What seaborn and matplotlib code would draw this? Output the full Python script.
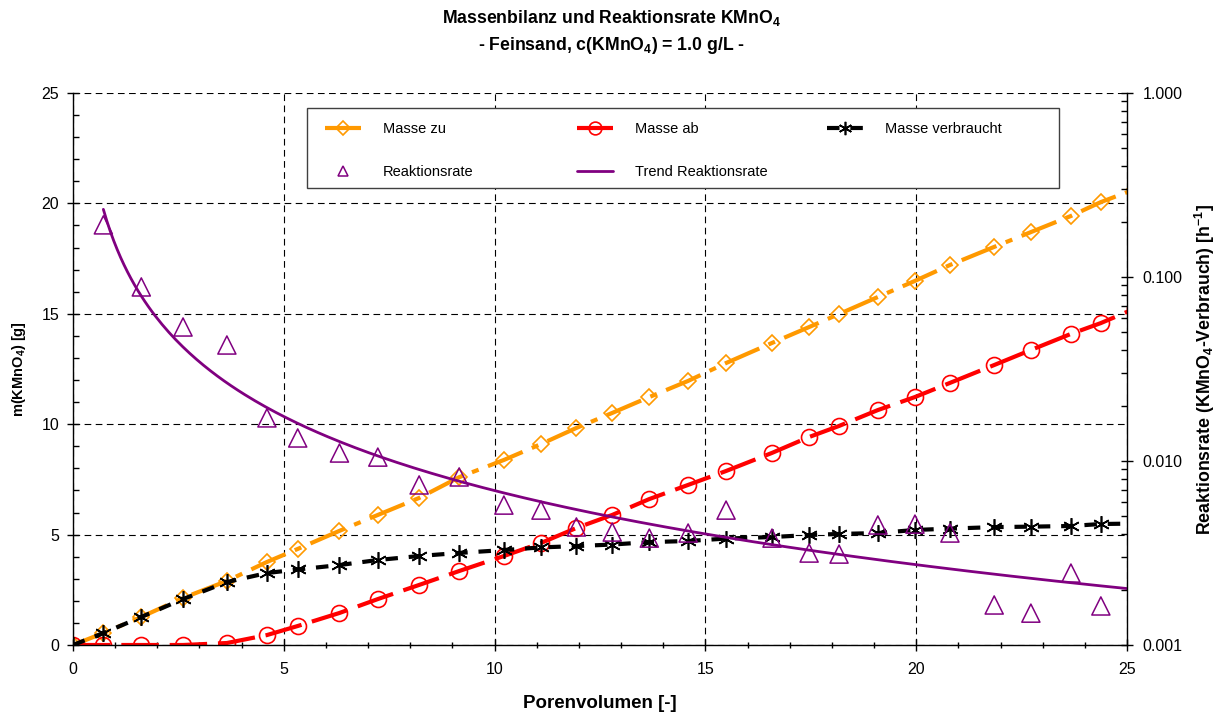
import numpy as np
import matplotlib
matplotlib.use("Agg")
import matplotlib.pyplot as plt
import seaborn as sns
from matplotlib.legend import Legend
from matplotlib.patches import Rectangle
from matplotlib.ticker import MultipleLocator, LogLocator, FuncFormatter, NullFormatter

# ---- data ----
porenvolumen = [0, 0.72, 1.62, 2.61, 3.65, 4.60, 5.33, 6.32, 7.23, 8.21, 9.16, 10.22,
                11.10, 11.94, 12.79, 13.67, 14.59, 15.49, 16.58, 17.46, 18.17, 19.09,
                19.97, 20.80, 21.85, 22.72, 23.67, 24.38, 25.20]
masse_zu = [0, 0.54, 1.27, 2.13, 2.90, 3.76, 4.35, 5.17, 5.89, 6.66, 7.60, 8.38,
            9.10, 9.83, 10.51, 11.23, 11.96, 12.77, 13.68, 14.40, 14.99, 15.76,
            16.49, 17.21, 18.03, 18.70, 19.43, 20.06, 20.65]
masse_ab = [0, 0, 0, 0, 0.09, 0.45, 0.86, 1.45, 2.08, 2.72, 3.35, 4.03,
            4.62, 5.30, 5.89, 6.61, 7.25, 7.88, 8.70, 9.42, 9.92, 10.64,
            11.23, 11.87, 12.68, 13.36, 14.09, 14.58, 15.25]
masse_verbraucht = [0, 0.54, 1.27, 2.08, 2.85, 3.26, 3.42, 3.62, 3.85, 4.03, 4.17, 4.30,
                    4.42, 4.48, 4.55, 4.66, 4.71, 4.82, 4.89, 4.98, 5.03, 5.07,
                    5.21, 5.27, 5.34, 5.36, 5.39, 5.48, 5.50]
pv_rate = [0.72, 1.62, 2.61, 3.65, 4.60, 5.33, 6.32, 7.23, 8.21, 9.16, 10.22,
           11.10, 11.94, 12.79, 13.67, 14.59, 15.49, 16.58, 17.46, 18.17, 19.09,
           19.97, 20.80, 21.85, 22.72, 23.67, 24.38]
reaktionsrate = [0.192, 0.0883, 0.0535, 0.0427, 0.01715, 0.01334, 0.01105, 0.0105,
                 0.00741, 0.00819, 0.00576, 0.00541, 0.00438, 0.00411, 0.00381,
                 0.00406, 0.00541, 0.00381, 0.00316, 0.00312, 0.00449, 0.00454,
                 0.00406, 0.00165, 0.00149, 0.00246, 0.00163]

x_ticks = [0, 5, 10, 15, 20, 25]
y_ticks = [0, 5, 10, 15, 20, 25]

ORANGE = "#FF9900"
RED = "#FF0000"
BLACK = "#000000"
PURPLE = "#800080"

sns.set_theme(style="ticks")
plt.rcParams['font.family'] = ['Liberation Sans', 'DejaVu Sans']
plt.rcParams['text.color'] = 'black'
plt.rcParams['axes.labelcolor'] = 'black'
plt.rcParams['mathtext.fontset'] = 'custom'
plt.rcParams['mathtext.rm'] = 'Liberation Sans'
plt.rcParams['mathtext.bf'] = 'Liberation Sans:bold'
plt.rcParams['mathtext.default'] = 'bf'

fig = plt.figure(figsize=(12.23, 7.15), dpi=100)
ax = fig.add_axes([73 / 1223, 70 / 715, 1054 / 1223, 552 / 715])
ax2 = ax.twinx()

# ---- mass series (left axis) ----
sns.lineplot(x=porenvolumen, y=masse_zu, ax=ax, color=ORANGE, linewidth=3,
             linestyle=(0, (9, 2.4, 1.7, 2.4)), marker="D", markersize=8.5,
             markerfacecolor="none", markeredgecolor=ORANGE, markeredgewidth=1.2)
h_zu = ax.lines[-1]
sns.lineplot(x=porenvolumen, y=masse_ab, ax=ax, color=RED, linewidth=3,
             linestyle=(0, (9, 2.6)), marker="o", markersize=11.5,
             markerfacecolor="none", markeredgecolor=RED, markeredgewidth=1.2)
h_ab = ax.lines[-1]
sns.lineplot(x=porenvolumen, y=masse_verbraucht, ax=ax, color=BLACK, linewidth=3,
             linestyle=(0, (3, 2.6)), marker=(6, 2, 0), markersize=12,
             markerfacecolor="none", markeredgecolor=BLACK, markeredgewidth=1.2)
h_vb = ax.lines[-1]

ax.set_xlim(0, 25)
ax.set_ylim(0, 25)
ax.set_xticks(x_ticks)
ax.set_yticks(y_ticks)
ax.xaxis.set_minor_locator(MultipleLocator(1))
ax.yaxis.set_minor_locator(MultipleLocator(1))
ax.grid(True, which="major", color="black", linestyle=(0, (6, 4)), linewidth=0.8)
ax.set_axisbelow(True)
ax.tick_params(which="major", direction="inout", length=8, width=1, labelsize=11.5,
               colors="black")
ax.tick_params(axis="x", which="major", pad=8)
ax.tick_params(axis="y", which="major", pad=6)
ax.tick_params(which="minor", direction="inout", length=5, width=1, colors="black")
ax.tick_params(axis="y", which="minor", direction="in", length=4)
for s in ["top", "right"]:
    ax.spines[s].set_visible(False)
for s in ["left", "bottom"]:
    ax.spines[s].set_color("black")
    ax.spines[s].set_linewidth(1)
ax.set_xlabel("Porenvolumen [-]", fontsize=13.5, fontweight="bold", labelpad=13)
ax.set_ylabel("m(KMnO$_4$) [g]", fontsize=10.5, fontweight="bold", labelpad=9.5)

# ---- reaction rate (right axis, log) ----
sns.scatterplot(x=pv_rate, y=reaktionsrate, ax=ax2, marker="^", s=170,
                color=PURPLE, linewidth=1.1, zorder=3)
pts = ax2.collections[-1]
pts.set_facecolor("none")
pts.set_edgecolor(PURPLE)
pts.set_clip_on(False)

coef = np.polyfit(np.log(pv_rate), np.log(reaktionsrate), 1)
x_trend = np.linspace(min(pv_rate), porenvolumen[-1], 300)
y_trend = np.exp(coef[1]) * x_trend ** coef[0]
sns.lineplot(x=x_trend, y=y_trend, ax=ax2, color=PURPLE, linewidth=2, zorder=2)
h_trend = ax2.lines[-1]

ax2.set_yscale("log")
ax2.set_ylim(0.001, 1)
ax2.set_xlim(0, 25)
ax2.yaxis.set_major_locator(LogLocator(base=10, numticks=10))
ax2.yaxis.set_major_formatter(FuncFormatter(lambda v, p: f"{v:.3f}"))
ax2.yaxis.set_minor_locator(LogLocator(base=10, subs=np.arange(2, 10), numticks=20))
ax2.yaxis.set_minor_formatter(NullFormatter())
ax2.tick_params(which="major", direction="inout", length=8, width=1, labelsize=11.5,
                colors="black", pad=7)
ax2.tick_params(which="minor", direction="in", length=4, width=1, colors="black")
for s in ["top", "left", "bottom"]:
    ax2.spines[s].set_visible(False)
ax2.spines["right"].set_color("black")
ax2.spines["right"].set_linewidth(1)
ax2.set_ylabel("Reaktionsrate (KMnO$_4$-Verbrauch) [h$^{-1}$]", fontsize=12.8,
               fontweight="bold", labelpad=8)

# ---- legend: one frame, three columns ----
frame = Rectangle((0.222, 0.828), 0.7135, 0.145, transform=ax2.transAxes,
                  facecolor="white", edgecolor="#404040", linewidth=1,
                  zorder=4, clip_on=False)
ax2.add_patch(frame)

h_rate = plt.Line2D([], [], linestyle="none", marker="^", markersize=9,
                    markerfacecolor="none", markeredgecolor=PURPLE, markeredgewidth=1.1)
columns = [([h_zu, h_rate], ["Masse zu", "Reaktionsrate"], 0.239),
           ([h_ab, h_trend], ["Masse ab", "Trend Reaktionsrate"], 0.478),
           ([h_vb], ["Masse verbraucht"], 0.715)]
for hs, ls, x0 in columns:
    lg = Legend(ax2, hs, ls, loc="upper left", bbox_to_anchor=(x0, 0.947),
                bbox_transform=ax2.transAxes,
                fontsize=10.5, frameon=False, borderpad=0, borderaxespad=0,
                handlelength=2.5, handletextpad=1.5, labelspacing=1.95,
                markerscale=0.8, labelcolor="black")
    lg.set_zorder(5)
    ax2.add_artist(lg)

# ---- title ----
fig.text(0.5, 1 - 18 / 715, "Massenbilanz und Reaktionsrate KMnO$_4$", ha="center",
         va="center", fontsize=12.7, fontweight="bold", color="black")
fig.text(0.5, 1 - 45 / 715, "- Feinsand, c(KMnO$_4$) = 1.0 g/L -", ha="center",
         va="center", fontsize=12.7, fontweight="bold", color="black")

fig.savefig("out.png", dpi=100, facecolor="white")
